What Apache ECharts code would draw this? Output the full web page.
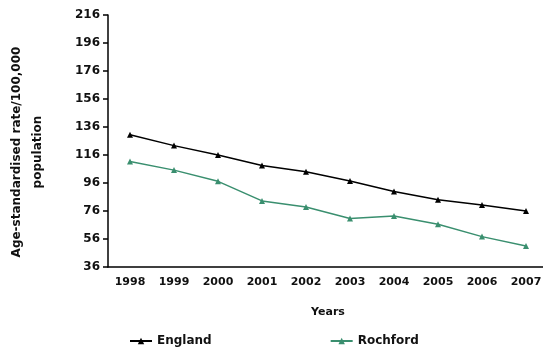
<!DOCTYPE html>
<html><head><meta charset="utf-8">
<script src="https://cdn.jsdelivr.net/npm/echarts@6/dist/echarts.min.js"></script>
<style>html,body{margin:0;padding:0;background:#fff}#c{width:543px;height:348px}</style>
</head><body><div id="c"></div>
<script>
const years = ['1998','1999','2000','2001','2002','2003','2004','2005','2006','2007'];
const yearLabels = ['1998','1999','2000','2001','2002','2003','2004','2005','2006','2007'];
const england = [130.5, 122.7, 116, 108.5, 104, 97.4, 90, 84, 80.3, 76];
const rochford = [111.4, 105.2, 97.2, 83.2, 78.9, 70.7, 72.4, 66.6, 57.7, 51];
const yTicks = [36, 56, 76, 96, 116, 136, 156, 176, 196, 216];

const font = 'DejaVu Sans';
const chart = echarts.init(document.getElementById('c'), null, {renderer:'canvas'});
chart.setOption({
  animation: false,
  backgroundColor: '#fff',
  grid: {left: 108, right: -5, top: 15, bottom: 81, outerBoundsMode: 'none', containLabel: false},
  legend: {
    left: 124, top: 330, itemGap: 118, itemWidth: 22, itemHeight: 8,
    textStyle: {fontFamily: font, fontWeight: 'bold', fontSize: 12, color: '#111'},
    data: ['England', 'Rochford']
  },
  xAxis: {
    type: 'category', data: years,
    name: 'Years', nameLocation: 'middle', nameGap: 40,
    nameTextStyle: {fontFamily: font, fontWeight: 'bold', fontSize: 11, color: '#111'},
    axisLine: {lineStyle: {color: '#000', width: 1.5}},
    axisTick: {length: 5, lineStyle: {color: '#000', width: 1.5}},
    axisLabel: {fontFamily: font, fontWeight: 'bold', fontSize: 11, color: '#111', margin: 10,
      formatter: (v, i) => yearLabels[i]}
  },
  yAxis: {
    type: 'value', min: 36, max: 216,
    name: 'Age-standardised rate/100,000\npopulation',
    nameLocation: 'middle', nameRotate: 90, nameGap: 60,
    nameTextStyle: {fontFamily: font, fontWeight: 'bold', fontSize: 12, color: '#111', lineHeight: 21, align: 'center', padding: [0, 22, 0, 0]},
    axisLine: {show: true, lineStyle: {color: '#000', width: 1.5}},
    axisTick: {show: true, length: 5, customValues: yTicks, lineStyle: {color: '#000', width: 1.5}},
    axisLabel: {fontFamily: font, fontWeight: 'bold', fontSize: 12, color: '#111', margin: 8, customValues: yTicks},
    splitLine: {show: false}
  },
  series: [
    {name: 'England', type: 'line', data: england, symbol: 'triangle', symbolSize: 6,
      itemStyle: {color: '#000'}, lineStyle: {color: '#000', width: 1.5}},
    {name: 'Rochford', type: 'line', data: rochford, symbol: 'triangle', symbolSize: 6,
      itemStyle: {color: '#3a8f6f'}, lineStyle: {color: '#3a8f6f', width: 1.5}}
  ]
});
</script></body></html>
